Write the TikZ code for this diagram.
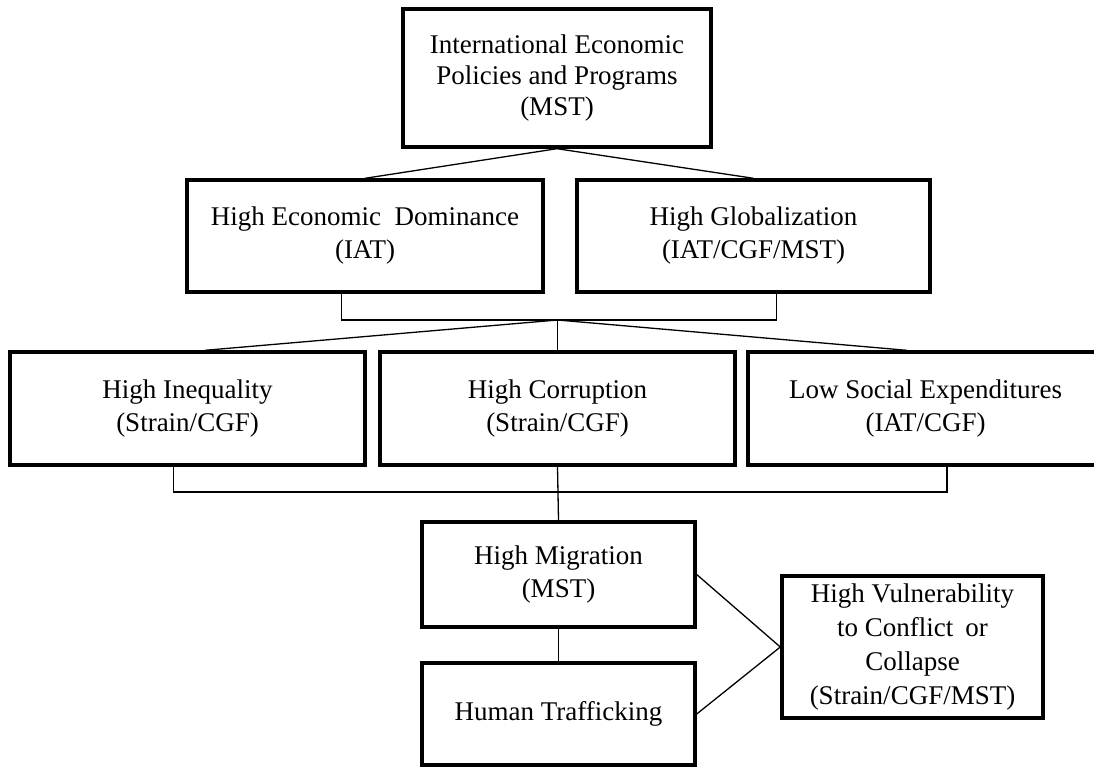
\documentclass[tikz,border=0pt]{standalone}
\usepackage{fontspec}
\setmainfont{Liberation Serif}
\usetikzlibrary{calc}
\begin{document}
\begin{tikzpicture}[x=1pt,y=-1pt,
  box/.style={draw=black, line width=3.4pt, fill=white, inner sep=0pt, align=center,
    font=\fontsize{27}{33}\selectfont},
  link/.style={draw=black, line width=1.3pt}]
\useasboundingbox (0,0) rectangle (1094,768);
\node[box, minimum width=308pt, minimum height=138pt, font=\fontsize{27}{31}\selectfont] (top) at (557,78)
  {International Economic\\Policies and Programs\\(MST)};
\node[box, minimum width=356pt, minimum height=112pt] (hed) at (365,236)
  {High Economic\hspace{0.5em}Dominance\\(IAT)};
\node[box, minimum width=353pt, minimum height=112pt] (hg) at (753.5,236)
  {High Globalization\\(IAT/CGF/MST)};
\node[box, minimum width=355pt, minimum height=113pt] (ineq) at (187.5,408.5)
  {High Inequality\\(Strain/CGF)};
\node[box, minimum width=355pt, minimum height=113pt] (corr) at (557.5,408.5)
  {High Corruption\\(Strain/CGF)};
\node[box, minimum width=355pt, minimum height=113pt] (lse) at (925.5,408.5)
  {Low Social Expenditures\\(IAT/CGF)};
\node[box, minimum width=273pt, minimum height=105pt] (mig) at (558.5,574.5)
  {High Migration\\(MST)};
\node[box, minimum width=273pt, minimum height=102pt] (traf) at (558.5,714)
  {Human Trafficking};
\node[box, minimum width=261pt, minimum height=142pt, font=\fontsize{27}{34}\selectfont] (vul) at (912.5,647)
  {High Vulnerability\\to Conflict\hspace{0.45em}or\\Collapse\\(Strain/CGF/MST)};
% top to row 2
\draw[link] (top.south) -- (hed.north);
\draw[link] (top.south) -- (hg.north);
% bracket under row 2
\coordinate (b1l) at ($(hed.south west)!0.435!(hed.south east)$);
\coordinate (b1r) at ($(hg.south west)!0.564!(hg.south east)$);
\coordinate (b1m) at (corr.north |- 0,320);
\draw[link] (b1l) -- (b1l |- b1m) -- (b1r |- b1m) -- (b1r);
\draw[link] (b1m) -- ($(ineq.north west)!0.549!(ineq.north east)$);
\draw[link] (b1m) -- (corr.north);
\draw[link] (b1m) -- ($(lse.north west)!0.448!(lse.north east)$);
% bracket under row 3
\coordinate (b2l) at ($(ineq.south west)!0.46!(ineq.south east)$);
\coordinate (b2r) at ($(lse.south west)!0.56!(lse.south east)$);
\coordinate (b2m) at (0,492);
\draw[link] (b2l) -- (b2l |- b2m) -- (b2r |- b2m) -- (b2r);
\draw[link] (corr.south) -- (mig.north);
\draw[link] (mig.south) -- (traf.north);
\draw[link] (mig.east) -- (vul.west);
\draw[link] (traf.east) -- (vul.west);
\end{tikzpicture}
\end{document}
